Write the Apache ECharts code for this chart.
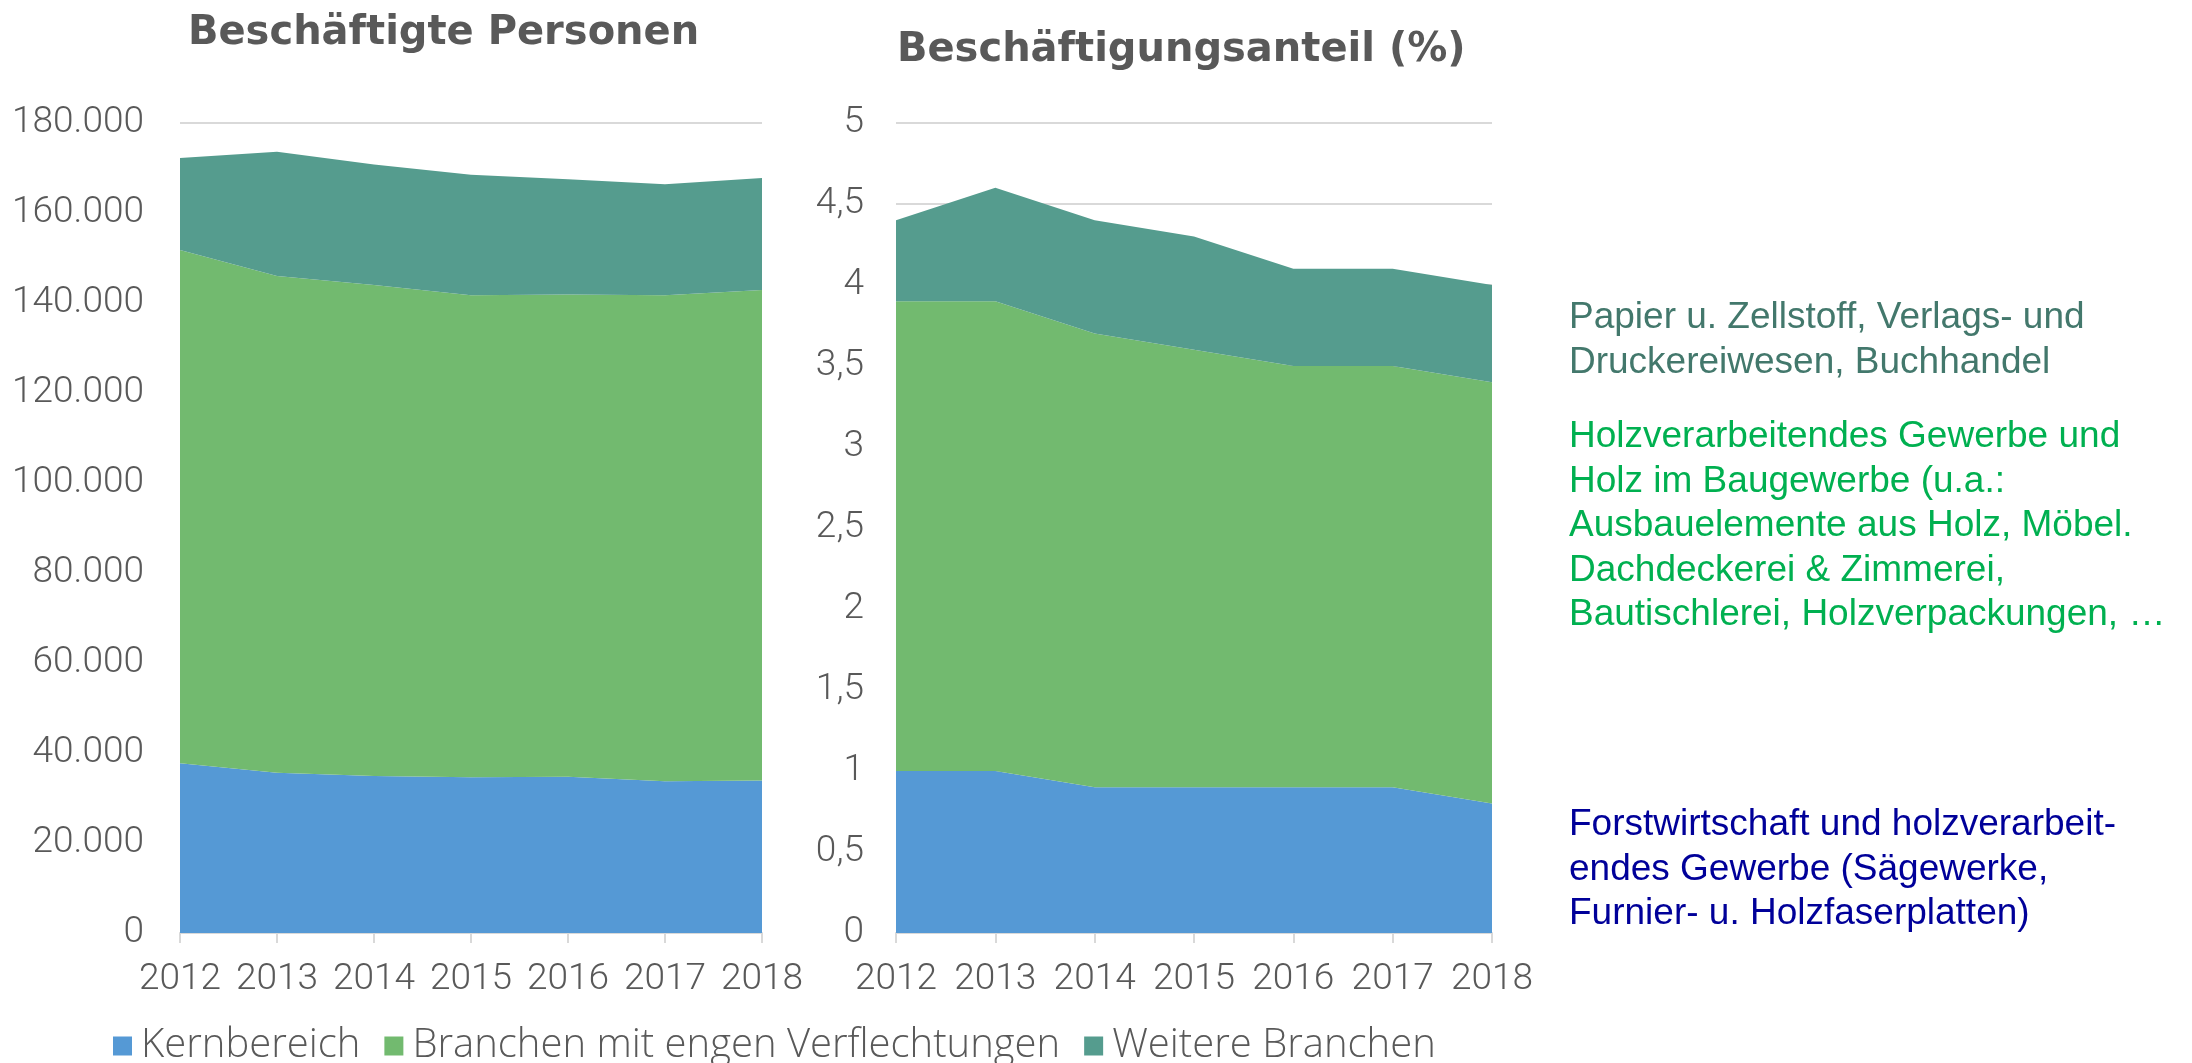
<html>
<head>
<meta charset="utf-8">
<script src="https://cdn.jsdelivr.net/npm/echarts@6/dist/echarts.min.js"></script>
<style>
  html, body { margin: 0; padding: 0; background: #fff; }
  #main { width: 2192px; height: 1063px; }
</style>
</head>
<body>
<div id="main"></div>
<script>
// years on the x axis
var years = ['2012', '2013', '2014', '2015', '2016', '2017', '2018'];
var seriesNames = ['Kernbereich', 'Branchen mit engen Verflechtungen', 'Weitere Branchen'];

// Beschäftigte Personen (stacked)
var personenKern = [37700, 35600, 34900, 34600, 34700, 33700, 33900];
var personenBranchen = [114100, 110400, 109100, 107100, 107200, 108000, 109000];
var personenWeitere = [20400, 27600, 26800, 26800, 25600, 24700, 24900];

// Beschäftigungsanteil in % (stacked)
var anteilKern = [1.0, 1.0, 0.9, 0.9, 0.9, 0.9, 0.8];
var anteilBranchen = [2.9, 2.9, 2.8, 2.7, 2.6, 2.6, 2.6];
var anteilWeitere = [0.5, 0.7, 0.7, 0.7, 0.6, 0.6, 0.6];

var colors = ['#5599d5', '#72ba6f', '#559c8e'];
var textColor = '#595959';
var lineColor = '#d9d9d9';
var font = 'Roboto';

var chart = echarts.init(document.getElementById('main'));

function xAxisFor(idx) {
    return {
        type: 'category',
        gridIndex: idx,
        data: years,
        boundaryGap: false,
        axisLine: { lineStyle: { color: lineColor, width: 2 } },
        axisTick: { show: true, length: 10, interval: 0, lineStyle: { color: lineColor, width: 2 } },
        axisLabel: { interval: 0, color: textColor, fontFamily: font, fontWeight: 300, fontSize: 37, margin: 28 }
    };
}

function areaSeries(name, data, idx, color, stack) {
    return {
        name: name,
        type: 'line',
        stack: stack,
        xAxisIndex: idx,
        yAxisIndex: idx,
        data: data,
        symbol: 'none',
        lineStyle: { width: 0 },
        areaStyle: { color: color, opacity: 1 },
        itemStyle: { color: color },
        emphasis: { disabled: true }
    };
}

chart.setOption({
    animation: false,
    title: [
        {
            text: 'Beschäftigte Personen',
            left: 183, top: 9,
            textStyle: { color: textColor, fontFamily: 'DejaVu Sans', fontWeight: 'bold', fontSize: 40 }
        },
        {
            text: 'Beschäftigungsanteil (%)',
            left: 892, top: 26,
            textStyle: { color: textColor, fontFamily: 'DejaVu Sans', fontWeight: 'bold', fontSize: 40 }
        }
    ],
    legend: {
        data: seriesNames,
        left: 108, top: 1021,
        itemWidth: 19, itemHeight: 19,
        itemGap: 24,
        icon: 'rect',
        textStyle: { color: textColor, fontFamily: 'Open Sans', fontWeight: 300, fontSize: 40, padding: [0, 0, 0, 4] }
    },
    grid: [
        { left: 180, top: 123, width: 582, height: 810 },
        { left: 896, top: 123, width: 596, height: 810 }
    ],
    xAxis: [xAxisFor(0), xAxisFor(1)],
    yAxis: [
        {
            type: 'value', gridIndex: 0, min: 0, max: 180000, interval: 20000,
            axisLine: { show: false }, axisTick: { show: false },
            splitLine: { lineStyle: { color: lineColor, width: 2 } },
            axisLabel: {
                color: textColor, fontFamily: font, fontWeight: 300, fontSize: 37, margin: 36,
                formatter: function (v) { return String(v).replace(/\B(?=(\d{3})+(?!\d))/g, '.'); }
            }
        },
        {
            type: 'value', gridIndex: 1, min: 0, max: 5, interval: 0.5,
            axisLine: { show: false }, axisTick: { show: false },
            splitLine: { lineStyle: { color: lineColor, width: 2 } },
            axisLabel: {
                color: textColor, fontFamily: font, fontWeight: 300, fontSize: 37, margin: 32,
                formatter: function (v) { return String(v).replace('.', ','); }
            }
        }
    ],
    series: [
        areaSeries(seriesNames[0], personenKern, 0, colors[0], 'p'),
        areaSeries(seriesNames[1], personenBranchen, 0, colors[1], 'p'),
        areaSeries(seriesNames[2], personenWeitere, 0, colors[2], 'p'),
        areaSeries(seriesNames[0], anteilKern, 1, colors[0], 'a'),
        areaSeries(seriesNames[1], anteilBranchen, 1, colors[1], 'a'),
        areaSeries(seriesNames[2], anteilWeitere, 1, colors[2], 'a')
    ],
    graphic: [
        {
            type: 'text', left: 1569, top: 296,
            style: {
                text: 'Papier u. Zellstoff, Verlags- und\nDruckereiwesen, Buchhandel',
                fill: '#43786c', font: '37px "Liberation Sans"', lineHeight: 44.5
            }
        },
        {
            type: 'text', left: 1569, top: 415,
            style: {
                text: 'Holzverarbeitendes Gewerbe und\nHolz im Baugewerbe (u.a.:\nAusbauelemente aus Holz, Möbel.\nDachdeckerei & Zimmerei,\nBautischlerei, Holzverpackungen, …',
                fill: '#00b050', font: '37px "Liberation Sans"', lineHeight: 44.5
            }
        },
        {
            type: 'text', left: 1569, top: 803,
            style: {
                text: 'Forstwirtschaft und holzverarbeit-\nendes Gewerbe (Sägewerke,\nFurnier- u. Holzfaserplatten)',
                fill: '#000099', font: '37px "Liberation Sans"', lineHeight: 44.5
            }
        }
    ]
});
</script>
</body>
</html>
